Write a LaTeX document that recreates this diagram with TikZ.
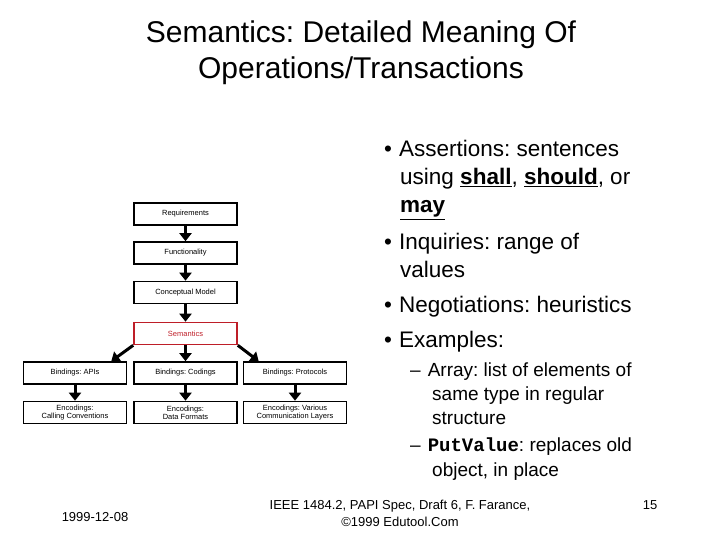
\documentclass[tikz,border=0pt]{standalone}
\usepackage{fontspec}
\setmainfont{Liberation Sans}
\setmonofont{Liberation Mono}
\usetikzlibrary{arrows.meta}
\definecolor{semred}{RGB}{190,30,40}
\frenchspacing
\begin{document}
\begin{tikzpicture}[x=1pt,y=-1pt,
 box/.style={draw,line width=1.6pt,minimum width=103pt,minimum height=22pt,inner sep=0pt,font=\fontsize{7.5}{8}\selectfont,align=center},
 arr/.style={line width=3pt,-{Triangle[length=8pt,width=12pt]}},
 bl/.style={anchor=base west,inner sep=0pt,font=\fontsize{22.5}{26}\selectfont},
 sl/.style={anchor=base west,inner sep=0pt,font=\fontsize{19}{22}\selectfont},
 tl/.style={inner sep=0pt,font=\fontsize{30}{34}\selectfont}]
\useasboundingbox (0,0) rectangle (720,540);
\node[tl] (t1) at (361,35) {Semantics: Detailed Meaning Of};
\node[tl] (t2) at (361,71) {Operations/Transactions};
\node[box] (req) at (185.5,214) {Requirements};
\node[box] (fun) at (185.5,253) {Functionality};
\node[box] (con) at (185.5,292.5) {Conceptual Model};
\node[box,draw=semred,text=semred] (sem) at (185.5,333.5) {Semantics};
\node[box] (api) at (75,373) {Bindings: APIs};
\node[box] (cod) at (185.5,373) {Bindings: Codings};
\node[box] (pro) at (295,373) {Bindings: Protocols};
\node[box] (eapi) at (75,412.5) {Encodings:\\Calling Conventions};
\node[box] (ecod) at (185.5,412.5) {Encodings:\\Data Formats};
\node[box] (epro) at (295,412.5) {Encodings: Various\\Communication Layers};
\draw[arr] (req) -- (fun);
\draw[arr] (fun) -- (con);
\draw[arr] (con) -- (sem);
\draw[arr] (sem) -- (cod);
\draw[arr] (sem.south west) -- ([xshift=-16pt]api.north east);
\draw[arr] (sem.south east) -- ([xshift=16pt]pro.north west);
\draw[arr] (api) -- (eapi);
\draw[arr] (cod) -- (ecod);
\draw[arr] (pro) -- (epro);
\node[bl] (b1) at (384,157) {•\hspace{7pt}Assertions: sentences};
\node[bl] (b1b) at (400,185) {using \underline{\textbf{shall}}, \underline{\textbf{should}}, or};
\node[bl] (b1c) at (400,213) {\underline{\textbf{may}}};
\node[bl] (b2) at (384,249) {•\hspace{7pt}Inquiries: range of};
\node[bl] (b2b) at (400,277) {values};
\node[bl] (b3) at (384,312) {•\hspace{7pt}Negotiations: heuristics};
\node[bl] (b4) at (384,347) {•\hspace{7pt}Examples:};
\node[sl] (s1) at (410,376) {–\hspace{7pt}Array: list of elements of};
\node[sl] (s1b) at (432,400) {same type in regular};
\node[sl] (s1c) at (432,424) {structure};
\node[sl] (s2) at (410,451) {–\hspace{7pt}\texttt{\textbf{PutValue}}: replaces old};
\node[sl] (s2b) at (432,476) {object, in place};
\node[inner sep=0pt,font=\fontsize{13}{15}\selectfont] (f1) at (95,517) {1999-12-08};
\node[inner sep=0pt,font=\fontsize{13}{17}\selectfont,align=center] (f2) at (400,513) {IEEE 1484.2, PAPI Spec, Draft 6, F. Farance,\\©1999 Edutool.Com};
\node[inner sep=0pt,font=\fontsize{13}{15}\selectfont] (f3) at (650,505) {15};
\end{tikzpicture}
\end{document}
